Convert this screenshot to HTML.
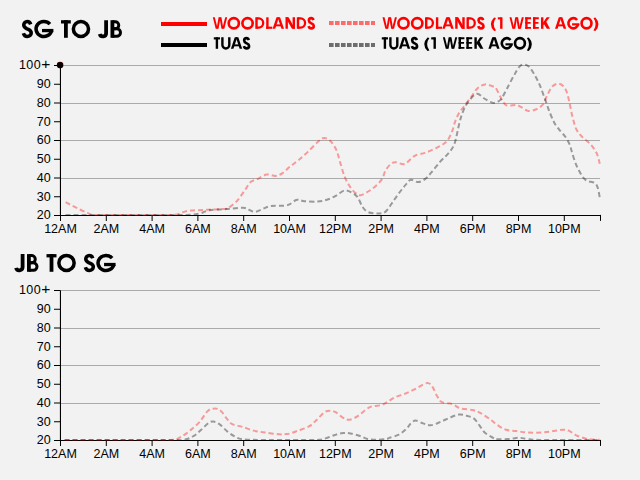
<!DOCTYPE html>
<html><head><meta charset="utf-8"><title>SG JB</title>
<style>
html,body{margin:0;padding:0;background:#f2f2f2;}
body{width:640px;height:480px;overflow:hidden;font-family:"Liberation Sans",sans-serif;}
svg{display:block;position:absolute;left:0;top:0;}
.tk{font-family:"Liberation Sans",sans-serif;font-size:12.5px;fill:#000;}
.ln{fill:none;stroke-width:2;stroke-opacity:0.37;stroke-dasharray:5 3;}
</style></head><body>
<svg width="640" height="480" viewBox="0 0 640 480">
<rect width="640" height="480" fill="#f2f2f2"/>
<g fill="none" stroke="#000" color="#000" stroke-linecap="butt" stroke-linejoin="miter"><path d="M30.68,24.36C30.13,22.56 28.87,21.52 27.3,21.52C25.25,21.52 23.76,23.01 23.76,25.11C23.76,27.5 25.41,28.1 27.3,29C29.35,29.9 31.23,30.5 31.23,32.89C31.23,34.99 29.5,36.48 27.3,36.48C25.57,36.48 24.07,35.44 23.37,33.19" stroke-width="3.53"/><path d="M49.9,24.19A7.83,7.48 0 1 0 51.56,30.57" stroke-width="3.53"/><path d="M53.4,30.57H41.98" stroke-width="3.3"/><path d="M61,21.85H70.8" stroke-width="3.3"/><path d="M65.9,20.2V37.8" stroke-width="3.8"/><ellipse cx="80.95" cy="29" rx="7.58" ry="7.48" stroke-width="3.53"/><path d="M106.1,20.2V33.15A3.2,3.2 0 0 1 99.8,33.92" stroke-width="3.8"/><path d="M112.4,20.2V37.8" stroke-width="3.8"/><path d="M112.4,21.68H115.23A3.54,3.54 0 0 1 115.23,28.77H112.4" stroke-width="2.97"/><path d="M112.4,28.77H116.73A3.77,3.77 0 0 1 116.73,36.31H112.4" stroke-width="2.97"/></g>
<g fill="none" stroke="#000" color="#000" stroke-linecap="butt" stroke-linejoin="miter"><path d="M22.6,254.1V267.05A3.3,3.3 0 0 1 16.1,267.85" stroke-width="3.8"/><path d="M28.9,254.1V271.8" stroke-width="3.8"/><path d="M28.9,255.59H31.88A3.57,3.57 0 0 1 31.88,262.72H28.9" stroke-width="2.97"/><path d="M28.9,262.72H33.4A3.8,3.8 0 0 1 33.4,270.31H28.9" stroke-width="2.97"/><path d="M46.5,255.75H56.5" stroke-width="3.3"/><path d="M51.5,254.1V271.8" stroke-width="3.8"/><ellipse cx="66.5" cy="262.95" rx="7.63" ry="7.53" stroke-width="3.53"/><path d="M92.78,258.28C92.22,256.47 90.94,255.42 89.35,255.42C87.28,255.42 85.77,256.92 85.77,259.03C85.77,261.44 87.44,262.05 89.35,262.95C91.42,263.85 93.33,264.46 93.33,266.87C93.33,268.98 91.58,270.48 89.35,270.48C87.6,270.48 86.08,269.43 85.37,267.17" stroke-width="3.53"/><path d="M112.08,258.11A7.93,7.53 0 1 0 113.76,264.53" stroke-width="3.53"/><path d="M115.6,264.53H104.06" stroke-width="3.3"/></g>
<line x1="161" y1="24" x2="207" y2="24" stroke="#f00" stroke-width="4"/>
<line x1="161" y1="45" x2="207" y2="45" stroke="#000" stroke-width="4"/>
<line x1="329" y1="23" x2="375" y2="23" stroke="#f00" stroke-opacity="0.55" stroke-width="4" stroke-dasharray="4.6 1.4"/>
<line x1="329" y1="45" x2="375" y2="45" stroke="#000" stroke-opacity="0.55" stroke-width="4" stroke-dasharray="4.6 1.4"/>
<g fill="none" stroke="#f00" color="#f00" stroke-linecap="butt" stroke-linejoin="miter"><path d="M212.79,17.3 L214.77,17.3 L217.68,28.8 L215.7,28.8 Z" stroke="none" fill="currentColor"/><path d="M218.59,17.3 L220.54,17.3 L218.53,28.8 L216.58,28.8 Z" stroke="none" fill="currentColor"/><path d="M219.46,17.3 L221.41,17.3 L223.42,28.8 L221.47,28.8 Z" stroke="none" fill="currentColor"/><path d="M225.23,17.3 L227.21,17.3 L224.3,28.8 L222.32,28.8 Z" stroke="none" fill="currentColor"/><ellipse cx="233.8" cy="23.25" rx="5.08" ry="5.08" stroke-width="2.64"/><ellipse cx="247.55" cy="23.25" rx="5.13" ry="5.08" stroke-width="2.64"/><path d="M256.5,17.3V28.8" stroke-width="2.4"/><path d="M256.5,18.38H258.73A4.68,4.68 0 0 1 258.73,27.73H256.5" stroke-width="2.27"/><path d="M267.4,17.3V28.8" stroke-width="2.4"/><path d="M266.2,27.73H272.3" stroke-width="2.15"/><path d="M276.52,17.3 L279.06,17.3 L275.15,28.8 L272.61,28.8 Z" stroke="none" fill="currentColor"/><path d="M277.54,17.3 L280.08,17.3 L283.99,28.8 L281.45,28.8 Z" stroke="none" fill="currentColor"/><path d="M275.05,25.35H281.55" stroke-width="1.94"/><path d="M286.7,17.3V28.8M293.8,17.3V28.8" stroke-width="2.4"/><path d="M285.5,17.3 L288.57,17.3 L295,28.8 L291.93,28.8 Z" stroke="none" fill="currentColor"/><path d="M298,17.3V28.8" stroke-width="2.4"/><path d="M298,18.38H300.62A4.68,4.68 0 0 1 300.62,27.73H298" stroke-width="2.27"/><path d="M313.42,20.1C313.06,18.88 312.23,18.17 311.2,18.17C309.86,18.17 308.88,19.19 308.88,20.61C308.88,22.23 309.96,22.64 311.2,23.25C312.54,23.86 313.78,24.27 313.78,25.89C313.78,27.31 312.64,28.33 311.2,28.33C310.06,28.33 309.08,27.62 308.62,26.09" stroke-width="2.64"/></g>
<g fill="none" stroke="#000" color="#000" stroke-linecap="butt" stroke-linejoin="miter"><path d="M213.8,38.38H220" stroke-width="2.15"/><path d="M216.9,37.3V48.8" stroke-width="2.4"/><path d="M222.4,37.3V45A3.45,3.45 0 0 0 229.3,45V37.3" stroke-width="2.4"/><path d="M234.77,37.3 L237.3,37.3 L233.44,48.8 L230.91,48.8 Z" stroke="none" fill="currentColor"/><path d="M235.8,37.3 L238.33,37.3 L242.19,48.8 L239.66,48.8 Z" stroke="none" fill="currentColor"/><path d="M233.34,45.35H239.76" stroke-width="1.94"/><path d="M248.72,40.1C248.36,38.88 247.53,38.17 246.5,38.17C245.16,38.17 244.18,39.19 244.18,40.61C244.18,42.23 245.26,42.64 246.5,43.25C247.84,43.86 249.08,44.27 249.08,45.89C249.08,47.31 247.94,48.33 246.5,48.33C245.36,48.33 244.38,47.62 243.92,46.09" stroke-width="2.64"/></g>
<g fill="none" stroke="#f00" color="#f00" stroke-linecap="butt" stroke-linejoin="miter"><path d="M382.49,17.3 L384.47,17.3 L387.38,28.8 L385.4,28.8 Z" stroke="none" fill="currentColor"/><path d="M388.29,17.3 L390.24,17.3 L388.23,28.8 L386.28,28.8 Z" stroke="none" fill="currentColor"/><path d="M389.16,17.3 L391.11,17.3 L393.12,28.8 L391.17,28.8 Z" stroke="none" fill="currentColor"/><path d="M394.93,17.3 L396.91,17.3 L394,28.8 L392.02,28.8 Z" stroke="none" fill="currentColor"/><ellipse cx="403.5" cy="23.25" rx="5.08" ry="5.08" stroke-width="2.64"/><ellipse cx="417.25" cy="23.25" rx="5.13" ry="5.08" stroke-width="2.64"/><path d="M426.2,17.3V28.8" stroke-width="2.4"/><path d="M426.2,18.38H428.43A4.68,4.68 0 0 1 428.43,27.73H426.2" stroke-width="2.27"/><path d="M437.1,17.3V28.8" stroke-width="2.4"/><path d="M435.9,27.73H442" stroke-width="2.15"/><path d="M446.22,17.3 L448.76,17.3 L444.85,28.8 L442.31,28.8 Z" stroke="none" fill="currentColor"/><path d="M447.24,17.3 L449.78,17.3 L453.69,28.8 L451.15,28.8 Z" stroke="none" fill="currentColor"/><path d="M444.75,25.35H451.25" stroke-width="1.94"/><path d="M456.4,17.3V28.8M463.5,17.3V28.8" stroke-width="2.4"/><path d="M455.2,17.3 L458.27,17.3 L464.7,28.8 L461.63,28.8 Z" stroke="none" fill="currentColor"/><path d="M467.7,17.3V28.8" stroke-width="2.4"/><path d="M467.7,18.38H470.32A4.68,4.68 0 0 1 470.32,27.73H467.7" stroke-width="2.27"/><path d="M483.12,20.1C482.76,18.88 481.93,18.17 480.9,18.17C479.56,18.17 478.58,19.19 478.58,20.61C478.58,22.23 479.66,22.64 480.9,23.25C482.24,23.86 483.48,24.27 483.48,25.89C483.48,27.31 482.34,28.33 480.9,28.33C479.76,28.33 478.78,27.62 478.32,26.09" stroke-width="2.64"/></g>
<g fill="none" stroke="#f00" color="#f00" stroke-linecap="butt" stroke-linejoin="miter"><path d="M494.1,17.5Q487.5,24.3 494.1,31.1L496,30.6Q491.36,24.3 496,18Z" stroke="none" fill="currentColor"/><path d="M501.3,17.3V28.8" stroke-width="2.4"/><path d="M497.8,18.38H501.3" stroke-width="2.15"/><path d="M509.49,17.3 L511.47,17.3 L514.35,28.8 L512.37,28.8 Z" stroke="none" fill="currentColor"/><path d="M515.24,17.3 L517.19,17.3 L515.2,28.8 L513.25,28.8 Z" stroke="none" fill="currentColor"/><path d="M516.11,17.3 L518.06,17.3 L520.05,28.8 L518.1,28.8 Z" stroke="none" fill="currentColor"/><path d="M521.83,17.3 L523.81,17.3 L520.93,28.8 L518.95,28.8 Z" stroke="none" fill="currentColor"/><path d="M526.4,17.3V28.8" stroke-width="2.4"/><path d="M525.2,18.22H531M525.2,22.94H530.65M525.2,27.88H531" stroke-width="1.85"/><path d="M534.2,17.3V28.8" stroke-width="2.4"/><path d="M533,18.22H538.8M533,22.94H538.45M533,27.88H538.8" stroke-width="1.85"/><path d="M542.2,17.3V28.8" stroke-width="2.4"/><path d="M546.68,17.3 L549.8,17.3 L543.16,25.52 L543.16,22.4 Z" stroke="none" fill="currentColor"/><path d="M542.88,22.5 L546.16,21.6 L550,28.8 L546.88,28.8 Z" stroke="none" fill="currentColor"/><path d="M558.83,17.3 L561.35,17.3 L557.54,28.8 L555.01,28.8 Z" stroke="none" fill="currentColor"/><path d="M559.85,17.3 L562.37,17.3 L566.19,28.8 L563.66,28.8 Z" stroke="none" fill="currentColor"/><path d="M557.42,25.35H563.78" stroke-width="1.94"/><path d="M577.04,19.98A4.88,5.08 0 1 0 578.07,24.34" stroke-width="2.64"/><path d="M579.4,24.34H572.06" stroke-width="2.15"/><ellipse cx="586.55" cy="23.25" rx="4.93" ry="5.08" stroke-width="2.64"/><path d="M595.4,17.5Q601.6,24.3 595.4,31.1L593.5,30.6Q597.74,24.3 593.5,18Z" stroke="none" fill="currentColor"/></g>
<g fill="none" stroke="#000" color="#000" stroke-linecap="butt" stroke-linejoin="miter"><path d="M381.8,38.38H388" stroke-width="2.15"/><path d="M384.9,37.3V48.8" stroke-width="2.4"/><path d="M390.4,37.3V45A3.45,3.45 0 0 0 397.3,45V37.3" stroke-width="2.4"/><path d="M402.77,37.3 L405.3,37.3 L401.44,48.8 L398.91,48.8 Z" stroke="none" fill="currentColor"/><path d="M403.8,37.3 L406.33,37.3 L410.19,48.8 L407.66,48.8 Z" stroke="none" fill="currentColor"/><path d="M401.34,45.35H407.76" stroke-width="1.94"/><path d="M416.72,40.1C416.36,38.88 415.53,38.17 414.5,38.17C413.16,38.17 412.18,39.19 412.18,40.61C412.18,42.23 413.26,42.64 414.5,43.25C415.84,43.86 417.08,44.27 417.08,45.89C417.08,47.31 415.94,48.33 414.5,48.33C413.36,48.33 412.38,47.62 411.92,46.09" stroke-width="2.64"/></g>
<g fill="none" stroke="#000" color="#000" stroke-linecap="butt" stroke-linejoin="miter"><path d="M427.5,37.5Q420.9,44.3 427.5,51.1L429.4,50.6Q424.76,44.3 429.4,38Z" stroke="none" fill="currentColor"/><path d="M434.7,37.3V48.8" stroke-width="2.4"/><path d="M431.2,38.38H434.7" stroke-width="2.15"/><path d="M442.89,37.3 L444.87,37.3 L447.75,48.8 L445.77,48.8 Z" stroke="none" fill="currentColor"/><path d="M448.64,37.3 L450.59,37.3 L448.6,48.8 L446.65,48.8 Z" stroke="none" fill="currentColor"/><path d="M449.51,37.3 L451.46,37.3 L453.45,48.8 L451.5,48.8 Z" stroke="none" fill="currentColor"/><path d="M455.23,37.3 L457.21,37.3 L454.33,48.8 L452.35,48.8 Z" stroke="none" fill="currentColor"/><path d="M459.8,37.3V48.8" stroke-width="2.4"/><path d="M458.6,38.22H464.4M458.6,42.93H464.05M458.6,47.88H464.4" stroke-width="1.85"/><path d="M467.6,37.3V48.8" stroke-width="2.4"/><path d="M466.4,38.22H472.2M466.4,42.93H471.85M466.4,47.88H472.2" stroke-width="1.85"/><path d="M475.6,37.3V48.8" stroke-width="2.4"/><path d="M480.08,37.3 L483.2,37.3 L476.56,45.52 L476.56,42.4 Z" stroke="none" fill="currentColor"/><path d="M476.28,42.5 L479.56,41.6 L483.4,48.8 L480.28,48.8 Z" stroke="none" fill="currentColor"/><path d="M492.23,37.3 L494.75,37.3 L490.94,48.8 L488.41,48.8 Z" stroke="none" fill="currentColor"/><path d="M493.25,37.3 L495.77,37.3 L499.59,48.8 L497.06,48.8 Z" stroke="none" fill="currentColor"/><path d="M490.82,45.35H497.18" stroke-width="1.94"/><path d="M510.44,39.98A4.88,5.08 0 1 0 511.47,44.34" stroke-width="2.64"/><path d="M512.8,44.34H505.46" stroke-width="2.15"/><ellipse cx="519.95" cy="43.25" rx="4.93" ry="5.08" stroke-width="2.64"/><path d="M528.8,37.5Q535,44.3 528.8,51.1L526.9,50.6Q531.14,44.3 526.9,38Z" stroke="none" fill="currentColor"/></g>
<line x1="60.50" y1="65.50" x2="600.00" y2="65.50" stroke="#aaa" stroke-width="1"/>
<line x1="60.50" y1="103.50" x2="600.00" y2="103.50" stroke="#aaa" stroke-width="1"/>
<line x1="60.50" y1="140.50" x2="600.00" y2="140.50" stroke="#aaa" stroke-width="1"/>
<line x1="60.50" y1="178.50" x2="600.00" y2="178.50" stroke="#aaa" stroke-width="1"/>
<line x1="54.00" y1="215.50" x2="60.50" y2="215.50" stroke="#000" stroke-width="1"/>
<text x="50.70" y="219.40" text-anchor="end" class="tk">20</text>
<line x1="54.00" y1="196.75" x2="60.50" y2="196.75" stroke="#000" stroke-width="1"/>
<text x="50.70" y="200.65" text-anchor="end" class="tk">30</text>
<line x1="54.00" y1="178.00" x2="60.50" y2="178.00" stroke="#000" stroke-width="1"/>
<text x="50.70" y="181.90" text-anchor="end" class="tk">40</text>
<line x1="54.00" y1="159.25" x2="60.50" y2="159.25" stroke="#000" stroke-width="1"/>
<text x="50.70" y="163.15" text-anchor="end" class="tk">50</text>
<line x1="54.00" y1="140.50" x2="60.50" y2="140.50" stroke="#000" stroke-width="1"/>
<text x="50.70" y="144.40" text-anchor="end" class="tk">60</text>
<line x1="54.00" y1="121.75" x2="60.50" y2="121.75" stroke="#000" stroke-width="1"/>
<text x="50.70" y="125.65" text-anchor="end" class="tk">70</text>
<line x1="54.00" y1="103.00" x2="60.50" y2="103.00" stroke="#000" stroke-width="1"/>
<text x="50.70" y="106.90" text-anchor="end" class="tk">80</text>
<line x1="54.00" y1="84.25" x2="60.50" y2="84.25" stroke="#000" stroke-width="1"/>
<text x="50.70" y="88.15" text-anchor="end" class="tk">90</text>
<line x1="54.00" y1="65.50" x2="60.50" y2="65.50" stroke="#000" stroke-width="1"/>
<text x="50.80" y="69.40" text-anchor="end" class="tk" letter-spacing="0.5">100<tspan font-size="15.5" dy="-0.2">+</tspan></text>
<path d="M60.50,221.00V215.50M600.50,220.90V214.90" fill="none" stroke="#000" stroke-width="1"/>
<line x1="60.00" y1="215.50" x2="601.00" y2="215.50" stroke="#000" stroke-width="1.15"/>
<line x1="60.45" y1="65.50" x2="60.45" y2="215.50" stroke="#000" stroke-width="1.1"/>
<text x="60.50" y="232.90" text-anchor="middle" class="tk">12AM</text>
<line x1="106.30" y1="215.50" x2="106.30" y2="221.00" stroke="#000" stroke-width="1"/>
<text x="106.30" y="232.90" text-anchor="middle" class="tk">2AM</text>
<line x1="152.10" y1="215.50" x2="152.10" y2="221.00" stroke="#000" stroke-width="1"/>
<text x="152.10" y="232.90" text-anchor="middle" class="tk">4AM</text>
<line x1="197.90" y1="215.50" x2="197.90" y2="221.00" stroke="#000" stroke-width="1"/>
<text x="197.90" y="232.90" text-anchor="middle" class="tk">6AM</text>
<line x1="243.70" y1="215.50" x2="243.70" y2="221.00" stroke="#000" stroke-width="1"/>
<text x="243.70" y="232.90" text-anchor="middle" class="tk">8AM</text>
<line x1="289.50" y1="215.50" x2="289.50" y2="221.00" stroke="#000" stroke-width="1"/>
<text x="289.50" y="232.90" text-anchor="middle" class="tk">10AM</text>
<line x1="335.30" y1="215.50" x2="335.30" y2="221.00" stroke="#000" stroke-width="1"/>
<text x="335.30" y="232.90" text-anchor="middle" class="tk">12PM</text>
<line x1="381.10" y1="215.50" x2="381.10" y2="221.00" stroke="#000" stroke-width="1"/>
<text x="381.10" y="232.90" text-anchor="middle" class="tk">2PM</text>
<line x1="426.90" y1="215.50" x2="426.90" y2="221.00" stroke="#000" stroke-width="1"/>
<text x="426.90" y="232.90" text-anchor="middle" class="tk">4PM</text>
<line x1="472.70" y1="215.50" x2="472.70" y2="221.00" stroke="#000" stroke-width="1"/>
<text x="472.70" y="232.90" text-anchor="middle" class="tk">6PM</text>
<line x1="518.50" y1="215.50" x2="518.50" y2="221.00" stroke="#000" stroke-width="1"/>
<text x="518.50" y="232.90" text-anchor="middle" class="tk">8PM</text>
<line x1="564.30" y1="215.50" x2="564.30" y2="221.00" stroke="#000" stroke-width="1"/>
<text x="564.30" y="232.90" text-anchor="middle" class="tk">10PM</text>
<clipPath id="c65"><rect x="60" y="55.5" width="542" height="160.5"/></clipPath>
<g clip-path="url(#c65)"><path d="M65.6,202.2C66.7,202.8 69.6,204.3 72.0,205.5C74.4,206.7 77.5,208.3 80.0,209.5C82.5,210.7 84.7,211.7 87.0,212.6C89.3,213.5 88.2,214.5 93.8,214.9C99.2,215.3 110.6,214.9 120.0,214.9C129.4,214.9 141.0,214.9 150.0,214.9C159.0,214.9 168.2,215.4 173.8,214.9C179.3,214.4 180.3,212.8 183.1,212.1C185.9,211.4 186.5,211.0 190.6,210.6C194.7,210.2 201.6,210.0 207.5,209.7C213.4,209.4 222.5,209.2 226.2,208.8C230.0,208.3 228.1,208.3 230.0,206.9C231.9,205.5 235.0,203.1 237.5,200.3C240.0,197.5 242.8,193.0 245.0,190.0C247.2,187.0 248.4,184.0 250.6,182.1C252.8,180.2 255.4,180.0 258.1,178.8C260.8,177.5 263.6,175.1 266.6,174.6C269.6,174.1 273.2,176.2 275.9,175.9C278.5,175.7 280.1,174.7 282.5,173.1C284.9,171.5 287.3,168.8 290.0,166.6C292.7,164.4 295.7,162.5 298.8,160.0C301.8,157.5 305.0,154.6 308.1,151.6C311.2,148.6 314.9,144.5 317.5,142.2C320.1,139.9 321.8,138.1 324.0,137.9C326.2,137.7 328.6,139.3 330.6,141.2C332.6,143.2 334.7,146.3 336.2,149.7C337.8,153.1 338.6,157.4 340.0,161.9C341.4,166.4 343.0,172.7 344.7,176.9C346.4,181.1 348.4,184.4 350.3,187.2C352.2,189.9 354.2,192.1 355.9,193.4C357.6,194.7 358.6,195.6 360.6,195.2C362.6,194.9 365.6,193.0 368.1,191.5C370.6,190.0 373.2,188.4 375.6,186.2C378.0,184.1 380.5,181.4 382.2,178.8C383.9,176.1 384.1,172.8 385.6,170.3C387.1,167.8 389.3,165.1 391.0,163.8C392.7,162.4 393.8,162.2 396.0,162.3C398.2,162.4 401.9,164.7 404.4,164.1C406.9,163.5 408.9,160.5 410.8,159.0C412.7,157.5 413.2,156.3 415.6,155.3C418.0,154.3 421.9,154.0 425.0,152.9C428.1,151.8 431.6,150.1 434.4,148.8C437.2,147.4 439.7,146.4 441.9,145.0C444.1,143.6 445.8,142.7 447.5,140.4C449.2,138.1 450.9,134.3 452.2,131.2C453.4,128.2 453.9,124.9 455.0,121.9C456.1,118.9 457.2,116.1 458.8,113.4C460.3,110.7 462.4,108.6 464.4,105.9C466.4,103.2 468.6,100.4 470.8,97.5C473.0,94.6 475.0,90.6 477.4,88.4C479.8,86.2 482.5,84.8 485.0,84.4C487.5,84.0 490.7,85.7 492.5,86.2C494.3,86.8 494.2,86.0 495.6,87.8C497.0,89.6 499.3,94.7 500.6,97.2C501.9,99.7 502.6,101.2 503.6,102.6C504.6,104.0 505.4,104.9 506.5,105.4C507.6,105.9 509.0,105.7 510.5,105.6C512.0,105.5 514.2,104.9 515.6,104.9C517.0,104.9 517.9,105.3 519.0,105.8C520.1,106.3 520.9,106.9 522.5,107.8C524.1,108.7 526.0,110.7 528.4,110.9C530.8,111.1 534.4,110.2 536.9,109.0C539.4,107.8 541.7,106.0 543.4,103.8C545.1,101.5 545.8,98.1 547.2,95.3C548.6,92.5 550.2,88.8 551.9,86.9C553.6,85.0 555.6,83.9 557.5,83.7C559.4,83.5 561.5,84.4 563.1,85.9C564.7,87.4 565.8,89.5 566.9,92.5C568.0,95.5 568.8,99.7 569.7,103.8C570.6,107.8 571.4,112.7 572.5,116.9C573.6,121.1 574.7,125.7 576.2,129.0C577.8,132.3 579.6,134.1 581.9,136.6C584.2,139.1 587.8,141.2 590.3,144.0C592.8,146.8 595.1,150.0 596.7,153.3C598.3,156.6 599.3,162.0 599.8,163.8" class="ln" stroke="#f00"/>
<path d="M65.6,214.9C74.7,214.9 104.3,214.9 120.0,214.9C135.7,214.9 148.8,214.9 160.0,214.9C171.2,214.9 180.2,215.2 186.9,214.9C193.6,214.7 196.2,214.2 200.0,213.4C203.8,212.6 205.0,211.0 209.4,210.2C213.8,209.5 220.6,209.5 226.2,209.1C231.9,208.7 239.3,207.7 243.1,207.8C246.8,207.9 246.7,209.0 248.8,209.7C250.8,210.4 252.8,212.1 255.3,211.9C257.8,211.7 261.1,209.4 263.8,208.4C266.4,207.4 267.8,206.4 271.2,205.9C274.7,205.4 281.3,205.9 284.4,205.6C287.5,205.3 287.9,205.1 290.0,204.1C292.1,203.1 294.5,200.2 296.9,199.8C299.3,199.3 301.0,200.9 304.4,201.2C307.8,201.6 313.8,201.8 317.5,201.6C321.2,201.3 323.8,200.8 326.9,199.8C330.0,198.8 333.3,197.2 336.2,195.6C339.2,194.0 342.0,190.9 344.7,190.4C347.4,189.9 350.0,191.6 352.2,192.8C354.4,194.0 356.1,195.2 357.8,197.5C359.5,199.8 360.8,204.5 362.5,206.9C364.2,209.3 365.6,211.0 368.1,212.1C370.6,213.2 374.6,213.5 377.5,213.4C380.4,213.3 382.9,213.8 385.6,211.6C388.3,209.4 391.3,203.9 393.9,200.3C396.5,196.7 399.2,192.8 401.4,190.0C403.6,187.2 405.3,185.1 406.9,183.4C408.5,181.7 409.0,179.9 410.9,179.7C412.8,179.5 415.9,182.3 418.4,182.1C420.9,181.9 423.7,180.1 425.9,178.4C428.1,176.8 429.2,174.9 431.6,172.2C434.0,169.4 437.4,164.9 440.0,161.9C442.6,158.9 445.3,156.9 447.5,154.4C449.7,151.9 451.7,149.5 453.1,146.9C454.5,144.3 454.8,142.9 455.9,138.8C457.0,134.6 458.4,126.6 459.7,121.9C460.9,117.2 462.0,113.9 463.4,110.6C464.8,107.3 465.9,105.0 468.1,102.2C470.3,99.4 473.8,94.3 476.6,93.8C479.4,93.2 482.4,97.5 485.0,99.0C487.6,100.5 490.5,102.2 492.5,102.8C494.5,103.2 495.5,102.6 497.0,102.0C498.5,101.4 499.6,101.2 501.2,99.0C502.9,96.8 504.8,92.7 506.9,88.8C509.0,84.8 511.8,79.3 513.9,75.6C516.0,71.9 517.8,68.4 519.5,66.6C521.2,64.8 522.6,64.6 524.2,64.6C525.8,64.6 527.2,64.9 528.9,66.6C530.6,68.3 532.6,71.5 534.5,74.7C536.4,77.9 538.3,81.7 540.1,85.9C541.9,90.1 543.6,95.5 545.3,100.0C546.9,104.5 548.4,109.2 550.0,113.1C551.6,117.0 553.0,120.4 554.7,123.4C556.4,126.4 558.4,128.6 560.3,130.9C562.2,133.2 564.3,135.2 565.9,137.5C567.5,139.8 568.7,142.3 569.7,144.6C570.7,146.9 570.7,148.1 571.7,151.2C572.7,154.4 574.2,159.9 575.8,163.8C577.3,167.6 579.3,171.4 581.0,174.2C582.7,177.0 584.0,178.9 586.2,180.4C588.5,181.9 592.7,181.7 594.6,182.9C596.5,184.1 596.8,185.3 597.7,187.7C598.6,190.1 599.4,195.9 599.8,197.5" class="ln" stroke="#000"/>
</g>
<circle cx="60.1" cy="65.1" r="3.3" fill="#500"/><circle cx="60.1" cy="65.1" r="2.9" fill="#000"/>
<line x1="60.50" y1="290.50" x2="600.00" y2="290.50" stroke="#aaa" stroke-width="1"/>
<line x1="60.50" y1="328.50" x2="600.00" y2="328.50" stroke="#aaa" stroke-width="1"/>
<line x1="60.50" y1="365.50" x2="600.00" y2="365.50" stroke="#aaa" stroke-width="1"/>
<line x1="60.50" y1="403.50" x2="600.00" y2="403.50" stroke="#aaa" stroke-width="1"/>
<line x1="54.00" y1="440.50" x2="60.50" y2="440.50" stroke="#000" stroke-width="1"/>
<text x="50.70" y="444.40" text-anchor="end" class="tk">20</text>
<line x1="54.00" y1="421.75" x2="60.50" y2="421.75" stroke="#000" stroke-width="1"/>
<text x="50.70" y="425.65" text-anchor="end" class="tk">30</text>
<line x1="54.00" y1="403.00" x2="60.50" y2="403.00" stroke="#000" stroke-width="1"/>
<text x="50.70" y="406.90" text-anchor="end" class="tk">40</text>
<line x1="54.00" y1="384.25" x2="60.50" y2="384.25" stroke="#000" stroke-width="1"/>
<text x="50.70" y="388.15" text-anchor="end" class="tk">50</text>
<line x1="54.00" y1="365.50" x2="60.50" y2="365.50" stroke="#000" stroke-width="1"/>
<text x="50.70" y="369.40" text-anchor="end" class="tk">60</text>
<line x1="54.00" y1="346.75" x2="60.50" y2="346.75" stroke="#000" stroke-width="1"/>
<text x="50.70" y="350.65" text-anchor="end" class="tk">70</text>
<line x1="54.00" y1="328.00" x2="60.50" y2="328.00" stroke="#000" stroke-width="1"/>
<text x="50.70" y="331.90" text-anchor="end" class="tk">80</text>
<line x1="54.00" y1="309.25" x2="60.50" y2="309.25" stroke="#000" stroke-width="1"/>
<text x="50.70" y="313.15" text-anchor="end" class="tk">90</text>
<line x1="54.00" y1="290.50" x2="60.50" y2="290.50" stroke="#000" stroke-width="1"/>
<text x="50.80" y="294.40" text-anchor="end" class="tk" letter-spacing="0.5">100<tspan font-size="15.5" dy="-0.2">+</tspan></text>
<path d="M60.50,446.00V440.50M600.50,445.90V439.90" fill="none" stroke="#000" stroke-width="1"/>
<line x1="60.00" y1="440.50" x2="601.00" y2="440.50" stroke="#000" stroke-width="1.15"/>
<line x1="60.45" y1="290.50" x2="60.45" y2="440.50" stroke="#000" stroke-width="1.1"/>
<text x="60.50" y="457.90" text-anchor="middle" class="tk">12AM</text>
<line x1="106.30" y1="440.50" x2="106.30" y2="446.00" stroke="#000" stroke-width="1"/>
<text x="106.30" y="457.90" text-anchor="middle" class="tk">2AM</text>
<line x1="152.10" y1="440.50" x2="152.10" y2="446.00" stroke="#000" stroke-width="1"/>
<text x="152.10" y="457.90" text-anchor="middle" class="tk">4AM</text>
<line x1="197.90" y1="440.50" x2="197.90" y2="446.00" stroke="#000" stroke-width="1"/>
<text x="197.90" y="457.90" text-anchor="middle" class="tk">6AM</text>
<line x1="243.70" y1="440.50" x2="243.70" y2="446.00" stroke="#000" stroke-width="1"/>
<text x="243.70" y="457.90" text-anchor="middle" class="tk">8AM</text>
<line x1="289.50" y1="440.50" x2="289.50" y2="446.00" stroke="#000" stroke-width="1"/>
<text x="289.50" y="457.90" text-anchor="middle" class="tk">10AM</text>
<line x1="335.30" y1="440.50" x2="335.30" y2="446.00" stroke="#000" stroke-width="1"/>
<text x="335.30" y="457.90" text-anchor="middle" class="tk">12PM</text>
<line x1="381.10" y1="440.50" x2="381.10" y2="446.00" stroke="#000" stroke-width="1"/>
<text x="381.10" y="457.90" text-anchor="middle" class="tk">2PM</text>
<line x1="426.90" y1="440.50" x2="426.90" y2="446.00" stroke="#000" stroke-width="1"/>
<text x="426.90" y="457.90" text-anchor="middle" class="tk">4PM</text>
<line x1="472.70" y1="440.50" x2="472.70" y2="446.00" stroke="#000" stroke-width="1"/>
<text x="472.70" y="457.90" text-anchor="middle" class="tk">6PM</text>
<line x1="518.50" y1="440.50" x2="518.50" y2="446.00" stroke="#000" stroke-width="1"/>
<text x="518.50" y="457.90" text-anchor="middle" class="tk">8PM</text>
<line x1="564.30" y1="440.50" x2="564.30" y2="446.00" stroke="#000" stroke-width="1"/>
<text x="564.30" y="457.90" text-anchor="middle" class="tk">10PM</text>
<clipPath id="c290"><rect x="60" y="280.5" width="542" height="160.5"/></clipPath>
<g clip-path="url(#c290)"><path d="M64.6,439.9C73.8,439.9 104.1,439.9 120.0,439.9C135.9,439.9 151.2,439.9 160.0,439.9C168.8,439.9 169.7,440.2 173.1,439.8C176.5,439.4 177.8,438.7 180.6,437.2C183.4,435.7 186.9,433.1 190.0,430.6C193.1,428.1 196.4,425.5 199.4,422.2C202.4,418.9 205.2,413.2 207.8,410.9C210.5,408.6 213.1,408.5 215.3,408.5C217.5,408.5 219.0,409.2 220.9,410.9C222.8,412.5 224.7,416.2 226.6,418.4C228.5,420.6 229.5,422.7 232.2,424.1C234.8,425.5 238.9,425.8 242.5,426.9C246.1,428.0 250.0,429.7 253.8,430.6C257.5,431.5 260.7,431.9 265.0,432.5C269.3,433.1 275.4,434.1 279.4,434.3C283.4,434.5 285.6,434.4 288.8,433.8C291.9,433.1 294.7,431.9 298.1,430.6C301.5,429.4 306.3,428.1 309.4,426.2C312.5,424.4 314.4,422.0 316.9,419.7C319.4,417.4 322.2,413.7 324.4,412.2C326.6,410.7 328.1,410.7 330.0,410.7C331.9,410.7 333.4,411.0 335.6,412.2C337.8,413.4 340.8,416.6 343.1,417.8C345.5,419.1 347.2,420.0 349.7,419.7C352.2,419.4 355.5,417.6 358.1,415.9C360.8,414.2 363.4,411.3 365.6,409.8C367.8,408.2 368.8,407.4 371.2,406.6C373.8,405.9 377.9,406.0 380.6,405.2C383.3,404.5 385.1,403.2 387.5,401.9C389.9,400.6 392.2,398.5 395.0,397.2C397.8,395.9 401.3,395.2 404.4,394.0C407.5,392.8 410.6,391.3 413.8,389.7C416.9,388.1 420.7,385.7 423.1,384.6C425.5,383.5 426.8,382.7 428.4,383.1C430.0,383.5 431.0,384.7 432.5,386.9C434.0,389.1 435.6,393.7 437.2,396.2C438.8,398.8 439.4,400.9 441.9,402.2C444.4,403.6 449.1,403.1 452.2,404.1C455.3,405.1 457.0,407.4 460.6,408.4C464.2,409.4 470.3,409.4 473.8,410.3C477.2,411.2 478.4,411.9 481.2,413.5C484.1,415.1 487.9,417.8 490.6,419.7C493.3,421.6 494.9,423.3 497.5,425.0C500.1,426.7 502.8,428.7 505.9,429.7C509.0,430.7 512.6,430.5 516.2,431.0C519.9,431.5 523.1,432.2 527.5,432.5C531.9,432.8 538.1,432.8 542.5,432.5C546.9,432.2 550.3,431.5 553.8,431.0C557.2,430.5 560.6,429.8 563.1,429.7C565.6,429.6 566.6,429.7 568.8,430.6C570.9,431.5 573.1,433.9 576.2,435.3C579.4,436.7 583.6,438.2 587.5,439.0C591.4,439.8 597.7,439.7 599.7,439.8" class="ln" stroke="#f00"/>
<path d="M64.6,439.9C73.8,439.9 102.4,439.9 120.0,439.9C137.6,439.9 159.3,439.9 170.0,439.9C180.7,439.9 180.4,440.5 184.4,439.8C188.4,439.1 190.9,437.6 193.8,435.9C196.6,434.2 198.8,431.9 201.2,429.7C203.8,427.5 206.7,424.1 208.8,422.8C210.8,421.4 211.5,421.3 213.4,421.6C215.3,421.9 217.7,422.9 220.0,424.6C222.3,426.3 225.0,429.6 227.5,431.6C230.0,433.6 232.5,435.3 235.0,436.6C237.5,437.9 238.3,438.7 242.5,439.2C246.7,439.8 250.4,439.8 260.0,439.9C269.6,440.0 290.2,439.9 300.0,439.9C309.8,439.9 314.1,440.2 318.8,439.8C323.4,439.4 325.3,438.4 328.1,437.5C330.9,436.6 333.1,435.4 335.6,434.7C338.1,433.9 340.6,433.2 343.1,433.0C345.6,432.8 347.8,432.9 350.6,433.4C353.4,433.9 357.2,435.1 360.0,436.0C362.8,436.9 364.7,438.4 367.5,439.0C370.3,439.6 373.8,439.8 376.9,439.8C380.0,439.8 384.2,439.3 386.2,439.0C388.3,438.7 387.3,438.6 389.4,437.9C391.5,437.2 395.9,436.2 398.8,434.7C401.6,433.2 404.2,430.9 406.2,429.0C408.3,427.1 409.3,424.8 410.9,423.4C412.5,422.0 413.6,420.6 415.6,420.6C417.6,420.6 420.6,422.6 423.1,423.4C425.6,424.2 427.8,425.5 430.6,425.3C433.4,425.1 436.9,423.4 440.0,422.1C443.1,420.9 446.3,419.1 449.4,417.8C452.5,416.6 455.9,415.0 458.8,414.6C461.6,414.2 463.8,415.0 466.2,415.6C468.8,416.2 471.6,416.8 473.8,418.4C475.9,420.0 477.5,422.9 479.4,425.3C481.3,427.7 482.8,430.8 485.0,432.8C487.2,434.8 490.4,436.4 492.5,437.5C494.6,438.6 494.8,439.0 497.5,439.2C500.2,439.5 505.2,439.2 508.8,439.0C512.3,438.8 515.9,437.8 519.0,437.8C522.1,437.8 524.0,438.6 527.5,439.0C531.0,439.4 528.0,439.8 540.0,439.9C552.0,440.0 589.8,439.9 599.7,439.9" class="ln" stroke="#000"/>
</g>
</svg></body></html>
